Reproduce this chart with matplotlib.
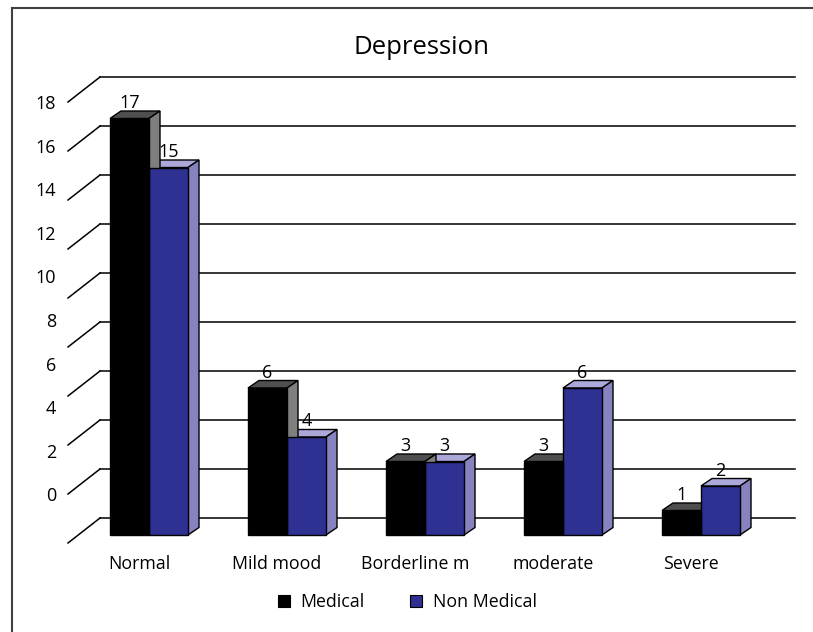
import matplotlib.pyplot as plt
from matplotlib.patches import Polygon
from matplotlib.lines import Line2D

plt.rcParams['font.family'] = ['Open Sans', 'DejaVu Sans']

categories = ['Normal', 'Mild mood', 'Borderline m', 'moderate', 'Severe']
medical = [17, 6, 3, 3, 1]
non_medical = [15, 4, 3, 6, 2]
series_names = ['Medical', 'Non Medical']
y_ticks = [0, 2, 4, 6, 8, 10, 12, 14, 16, 18]

# colours for front / top / side faces of each series
faces = {
    'Medical': ('#000000', '#4f4f4f', '#7f7f7f'),
    'Non Medical': ('#2e3192', '#aca8da', '#8783c0'),
}

W, H = 813, 632
PX = 138.0    # pixels per category step
PY = 24.5     # pixels per value unit

fig = plt.figure(figsize=(W / 100, H / 100), dpi=100)
ax = fig.add_axes([0, 0, 1, 1])
# category i front-face centre at x=149+138*i px, value 0 at y=535 px from top
ax.set_xlim(-149 / PX, (W - 149) / PX)
ax.set_ylim(-(H - 535) / PY, 535 / PY)
ax.axis('off')

# 3D offsets in data units
wall_dx, wall_dy = 22 / PX, 17 / PY      # back wall behind bar fronts
bar_dx, bar_dy = 11 / PX, 7.5 / PY       # depth of each bar
floor_dx = -10 / PX                      # front edge of floor
wall_left = (100 - 149) / PX
wall_right = (795 - 149) / PX
bw = 39 / PX

# back wall gridlines and slanted tick lines on the left
for v in y_ticks:
    ax.plot([wall_left, wall_right], [v + wall_dy, v + wall_dy],
            color='black', lw=1.1, zorder=1)
    ax.plot([wall_left - 32 / PX, wall_left], [v - 8 / PY, v + wall_dy],
            color='black', lw=1.1, zorder=1)
    # tick labels sit on a slightly compressed scale
    ly = 18 - (18 - v) * 43.6 / 49.0
    ax.text(wall_left - 32 / PX - 12 / PX, ly + (535 - 104) / PY - 18,
            str(v), ha='right', va='center', fontsize=13)


def draw_bar(x0, val, name):
    front, top, side = faces[name]
    ax.bar(x0, val, width=bw, align='edge', color=front,
           edgecolor='black', linewidth=1, zorder=3)
    top_pts = [(x0, val), (x0 + bw, val), (x0 + bw + bar_dx, val + bar_dy),
               (x0 + bar_dx, val + bar_dy)]
    side_pts = [(x0 + bw, 0), (x0 + bw + bar_dx, bar_dy),
                (x0 + bw + bar_dx, val + bar_dy), (x0 + bw, val)]
    ax.add_patch(Polygon(top_pts, closed=True, facecolor=top,
                         edgecolor='black', lw=1, zorder=2))
    ax.add_patch(Polygon(side_pts, closed=True, facecolor=side,
                         edgecolor='black', lw=1, zorder=2))
    ax.text(x0 + bw / 2, val + bar_dy - 1 / PY, str(val),
            ha='center', va='bottom', fontsize=13, zorder=5)


# draw right-most bars first so the left ones overlap their sides
for i in range(len(categories)):
    draw_bar(i, non_medical[i], 'Non Medical')
    draw_bar(i - bw, medical[i], 'Medical')
    ax.text(i + floor_dx, -(564 - 535) / PY, categories[i],
            ha='center', va='center', fontsize=12.8)

ax.text(421 / PX - 149 / PX, (535 - 47) / PY, 'Depression',
        ha='center', va='center', fontsize=18.5)

# legend
handles = [Line2D([], [], marker='s', linestyle='none', markersize=9,
                  markerfacecolor=faces[n][0], markeredgecolor='black',
                  markeredgewidth=0.8) for n in series_names]
fig.legend(handles, series_names, loc='center', bbox_to_anchor=(406 / W, 1 - 602 / H),
           ncol=2, frameon=False, fontsize=12.8, handletextpad=0.45,
           columnspacing=2.4, handlelength=1.0)

# chart border (top and left edges)
fig.add_artist(Line2D([12 / W, 1], [1 - 8 / H, 1 - 8 / H], color='#404040', lw=1.5))
fig.add_artist(Line2D([12 / W, 12 / W], [0, 1 - 8 / H], color='#404040', lw=1.5))

fig.savefig('out.png', dpi=100)
